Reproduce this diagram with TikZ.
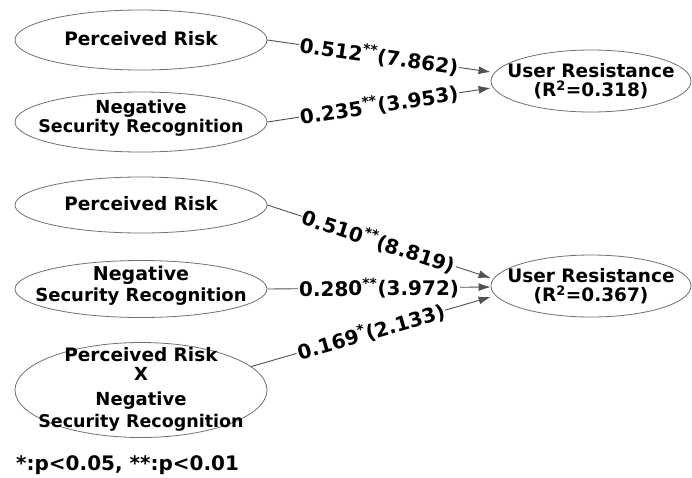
\documentclass[tikz,border=0pt]{standalone}
\usepackage{fontspec}
\setmainfont{DejaVu Sans}
\usetikzlibrary{shapes.geometric,arrows.meta}
\definecolor{lin}{HTML}{505050}
\definecolor{bord}{HTML}{707070}
\newcommand{\fs}[1]{\fontsize{#1}{20}\selectfont}
\begin{document}
\begin{tikzpicture}[x=1pt,y=-1pt,
  lat/.style={ellipse,draw=bord,line width=0.8pt,minimum width=252pt,minimum height=#1,inner sep=0pt},
  res/.style={ellipse,draw=bord,line width=0.8pt,minimum width=200pt,minimum height=62pt,inner sep=0pt},
  txt/.style={align=center,font=\fontsize{18}{20}\selectfont\bfseries,inner sep=0pt},
  edge/.style={draw=lin,line width=0.9pt,-{Latex[length=12pt,width=8pt]}},
  lbl/.style={fill=white,inner sep=1pt,font=\fs{20}\bfseries,sloped}]
\useasboundingbox (0,0) rectangle (692,477);
\node[lat=60pt,label={[txt,yshift=1pt]center:\fs{18.5}Perceived Risk}] (e1) at (141,40) {};
\node[lat=60pt,label={[txt,yshift=4pt]center:\fs{18}Negative\\[-1pt]\fs{17.5}Security Recognition}] (e2) at (141,122) {};
\node[lat=56pt,label={[txt,yshift=1pt]center:\fs{18.5}Perceived Risk}] (e3) at (141,205) {};
\node[lat=57pt,label={[txt,yshift=3pt]center:\fs{19}Negative\\[1pt]\fs{18}Security Recognition}] (e4) at (141,289) {};
\node[lat=95pt,label={[txt,yshift=1pt]center:\fs{18.5}Perceived Risk\\[-1pt]\fs{18}X\\[5pt]\fs{18}Negative\\[2pt]\fs{17.5}Security Recognition}] (e5) at (141,390) {};
\node[res,label={[txt]center:\fs{18.5}User Resistance\\[-1pt]\fs{18.5}(R\textsuperscript{2}=0.318)}] (r1) at (591,81) {};
\node[res,label={[txt]center:\fs{18.5}User Resistance\\[-1pt]\fs{18.5}(R\textsuperscript{2}=0.367)}] (r2) at (591,286) {};
\node[txt,font=\fs{20}\bfseries,anchor=west] (fn) at (16,465) {*:p<0.05, **:p<0.01};
\draw[edge] (e1.east) -- node[lbl]{0.512\textsuperscript{**}(7.862)} ([yshift=9pt]r1.west);
\draw[edge] (e2.east) -- node[lbl]{0.235\textsuperscript{**}(3.953)} ([yshift=-7pt]r1.west);
\draw[edge] (e3.east) -- node[lbl]{0.510\textsuperscript{**}(8.819)} ([yshift=8pt]r2.west);
\draw[edge] (e4.east) -- node[lbl]{0.280\textsuperscript{**}(3.972)} ([yshift=-1pt]r2.west);
\draw[edge] (e5.12) -- node[lbl]{0.169\textsuperscript{*}(2.133)} ([yshift=-11pt]r2.west);
\end{tikzpicture}
\end{document}
